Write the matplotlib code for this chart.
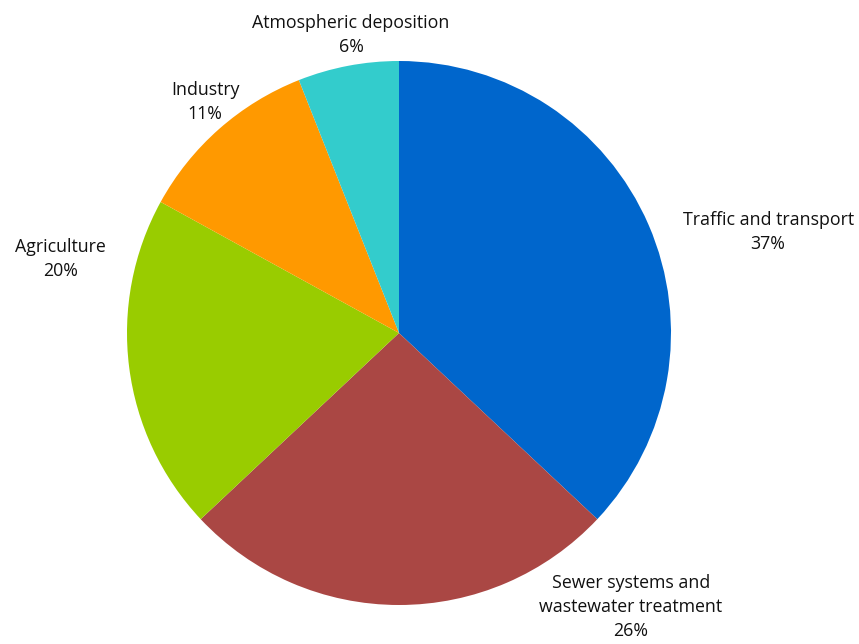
"""Pie chart of pollution sources."""

import matplotlib
matplotlib.use('Agg')
import matplotlib.pyplot as plt

SOURCES = ['Traffic and transport', 'Sewer systems and\nwastewater treatment',
           'Agriculture', 'Industry', 'Atmospheric deposition']
SHARES = [37, 26, 20, 11, 6]
COLORS = ['#0066CC', '#AA4744', '#99CC00', '#FF9900', '#33CCCC']
# label centres in pie-radius units
LABEL_POS = [(1.357, 0.371), (0.853, -1.007), (-1.246, 0.272),
             (-0.713, 0.849), (-0.176, 1.096)]

plt.rcParams['font.family'] = ['Open Sans', 'DejaVu Sans']

W, H = 859, 644
CX, CY, R = 399, 333, 272

fig = plt.figure(figsize=(W / 100, H / 100), dpi=100)
ax = fig.add_axes([(CX - R) / W, (H - CY - R) / H, 2 * R / W, 2 * R / H])
ax.pie(SHARES, colors=COLORS, startangle=90, counterclock=False,
       wedgeprops={'linewidth': 0})
ax.set_xlim(-1, 1)
ax.set_ylim(-1, 1)
ax.set_aspect('equal')

for name, val, (x, y) in zip(SOURCES, SHARES, LABEL_POS):
    ax.text(x, y, '{0}\n{1}%'.format(name, val), ha='center', va='center',
            fontsize=12.8, color='#111111', linespacing=1.45)

fig.savefig('out.png', dpi=100)
